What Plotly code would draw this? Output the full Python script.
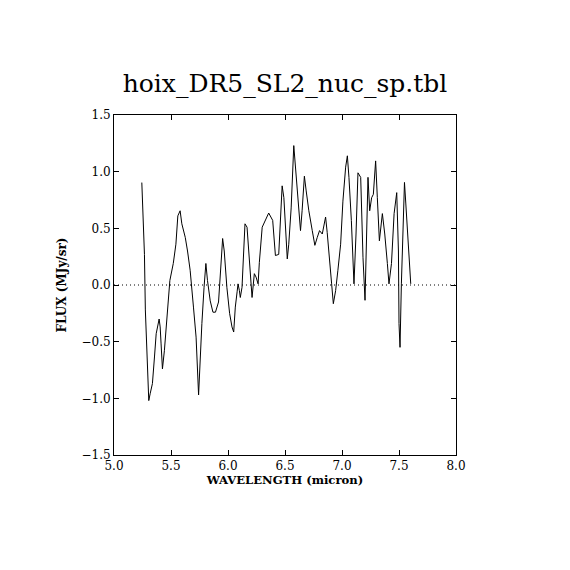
import plotly.graph_objects as go

# spectrum
wavelength = [5.244, 5.249, 5.258, 5.267, 5.275, 5.287, 5.296, 5.305, 5.317, 5.337,
              5.355, 5.370, 5.396, 5.405, 5.413, 5.425, 5.442, 5.457, 5.475, 5.490,
              5.520, 5.543, 5.560, 5.580, 5.595, 5.625, 5.645, 5.668, 5.697, 5.720,
              5.742, 5.756, 5.771, 5.790, 5.806, 5.820, 5.844, 5.868, 5.890, 5.917,
              5.940, 5.953, 5.967, 5.990, 6.014, 6.035, 6.050, 6.064, 6.080, 6.088,
              6.100, 6.108, 6.123, 6.137, 6.149, 6.167, 6.187, 6.211, 6.231, 6.246,
              6.264, 6.275, 6.300, 6.327, 6.357, 6.392, 6.416, 6.445, 6.475, 6.490,
              6.520, 6.533, 6.554, 6.577, 6.592, 6.612, 6.636, 6.650, 6.670, 6.686,
              6.709, 6.739, 6.762, 6.783, 6.803, 6.827, 6.856, 6.870, 6.888, 6.909,
              6.924, 6.944, 6.964, 6.988, 7.008, 7.032, 7.047, 7.061, 7.082, 7.105,
              7.123, 7.140, 7.164, 7.184, 7.202, 7.214, 7.228, 7.243, 7.260, 7.275,
              7.295, 7.310, 7.328, 7.354, 7.375, 7.398, 7.412, 7.434, 7.457, 7.480,
              7.495, 7.500, 7.509, 7.521, 7.533, 7.548, 7.560, 7.580, 7.603]
flux = [0.904, 0.77, 0.54, 0.27, -0.22, -0.55, -0.87, -1.02, -0.96, -0.87,
        -0.635, -0.43, -0.30, -0.37, -0.52, -0.74, -0.58, -0.40, -0.14, 0.04,
        0.19, 0.36, 0.61, 0.655, 0.54, 0.42, 0.30, 0.13, -0.195, -0.46,
        -0.97, -0.635, -0.34, -0.02, 0.19, 0.04, -0.14, -0.24, -0.24, -0.15,
        0.16, 0.41, 0.30, -0.02, -0.25, -0.37, -0.415, -0.195, -0.06, 0.01,
        -0.05, -0.11, -0.02, 0.36, 0.54, 0.51, 0.19, -0.11, 0.10, 0.07,
        0.01, 0.20, 0.51, 0.57, 0.635, 0.57, 0.26, 0.27, 0.875, 0.77,
        0.23, 0.36, 0.68, 1.23, 1.02, 0.77, 0.48, 0.655, 0.96, 0.83,
        0.655, 0.48, 0.35, 0.42, 0.48, 0.45, 0.60, 0.465, 0.215, 0.01,
        -0.165, -0.05, 0.13, 0.36, 0.74, 1.04, 1.14, 0.95, 0.57, 0.01,
        0.45, 0.99, 0.95, 0.245, -0.135, 0.36, 0.95, 0.655, 0.77, 0.80,
        1.095, 0.77, 0.39, 0.63, 0.45, 0.19, 0.01, 0.19, 0.63, 0.815,
        0.30, -0.34, -0.55, 0.01, 0.51, 0.905, 0.715, 0.36, 0.01]

xTicks = [5.0, 5.5, 6.0, 6.5, 7.0, 7.5, 8.0]
yTicks = [-1.5, -1.0, -0.5, 0.0, 0.5, 1.0, 1.5]

titleStr = 'hoix_DR5_SL2_nuc_sp.tbl'
xTitle   = 'WAVELENGTH (micron)'
yTitle   = 'FLUX (MJy/sr)'

serif = 'DejaVu Serif'

fig = go.Figure()
fig.add_trace(go.Scatter(x=wavelength, y=flux, mode='lines',
                         line=dict(color='black', width=1), showlegend=False))

# dotted zero line across the whole box
fig.add_shape(type='line', xref='paper', x0=0, x1=1, yref='y', y0=0, y1=0,
              line=dict(color='black', width=1, dash='1px,3px'), layer='below')

axisStyle = dict(showline=True, linecolor='black', linewidth=1, mirror='ticks',
                 ticks='inside', ticklen=5, tickcolor='black', tickwidth=1,
                 showgrid=False, zeroline=False,
                 tickfont=dict(family=serif, size=12, color='black'))

fig.update_xaxes(range=[5.0, 8.0], tickvals=xTicks,
                 ticktext=['%.1f' % v for v in xTicks],
                 title=dict(text='<b>' + xTitle + '</b>', standoff=0,
                            font=dict(family=serif, size=11.6, color='black')),
                 **axisStyle)
fig.update_yaxes(range=[-1.5, 1.5], tickvals=yTicks,
                 ticktext=['%.1f' % v if v >= 0 else '\u2212%.1f' % -v for v in yTicks],
                 title=dict(text='<b>' + yTitle + '</b>', standoff=12,
                            font=dict(family=serif, size=12, color='black')),
                 **axisStyle)

# the page body adds 8px, so the margins are set 8px smaller on the top/left
fig.update_layout(width=570, height=570,
                  margin=dict(l=106, r=122, t=107, b=123, pad=0),
                  paper_bgcolor='white', plot_bgcolor='white',
                  title=dict(text=titleStr, x=(285 - 8) / 570, xanchor='center',
                             y=1 - 75 / 570, yanchor='middle',
                             font=dict(family=serif, size=25, color='black')))

fig.write_html("out.html")
